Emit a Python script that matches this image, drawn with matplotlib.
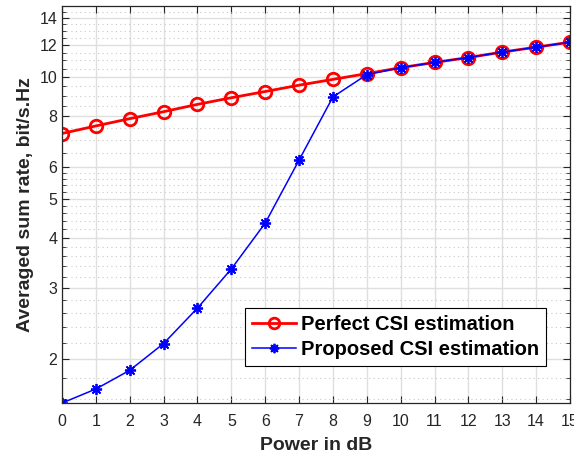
import numpy as np
import matplotlib
matplotlib.use('Agg')
import matplotlib.pyplot as plt
from matplotlib.ticker import FixedLocator, NullFormatter, NullLocator

plt.rcParams['font.family'] = ['Liberation Sans', 'DejaVu Sans']

# Data
power_db = [0, 1, 2, 3, 4, 5, 6, 7, 8, 9, 10, 11, 12, 13, 14, 15]
perfect_csi = [7.25, 7.57, 7.89, 8.21, 8.56, 8.89, 9.21, 9.55, 9.87, 10.2,
               10.55, 10.87, 11.18, 11.53, 11.86, 12.2]
proposed_csi = [1.56, 1.69, 1.88, 2.19, 2.68, 3.35, 4.35, 6.23, 8.93, 10.14,
                10.55, 10.87, 11.18, 11.53, 11.86, 12.2]

y_ticks = [2, 3, 4, 5, 6, 8, 10, 12, 14]
y_minor = [1.6, 1.8, 2.2, 2.4, 2.6, 2.8, 3.2, 3.4, 3.6, 3.8, 4.2, 4.4, 4.6, 4.8,
           5.2, 5.4, 5.6, 5.8, 6.5, 7, 7.5, 8.5, 9, 9.5, 10.5, 11, 11.5,
           12.5, 13, 13.5, 14.5]

axis_color = '#262626'

fig = plt.figure(figsize=(5.74, 4.58), dpi=100)
ax = fig.add_axes([0.108, 0.12, 0.885, 0.867])

ax.plot(power_db, perfect_csi, color='red', linewidth=2, marker='o',
        markersize=9, markerfacecolor='none', markeredgewidth=2,
        label='Perfect CSI estimation')
ax.plot(power_db, proposed_csi, color='blue', linewidth=1.1, marker=(8, 2, 0),
        markersize=8, markeredgewidth=1.3,
        label='Proposed CSI estimation')

ax.set_yscale('log')
ax.set_xlim(0, 15)
ax.set_ylim(1.56, 15)
ax.set_xticks(power_db)
ax.xaxis.set_minor_locator(NullLocator())
ax.yaxis.set_major_locator(FixedLocator(y_ticks))
ax.yaxis.set_minor_locator(FixedLocator(y_minor))
ax.set_yticklabels([str(t) for t in y_ticks])
ax.yaxis.set_minor_formatter(NullFormatter())

ax.grid(True, which='major', color='#dfdfdf', linewidth=1, linestyle='-')
ax.grid(True, which='minor', color='#c8c8c8', linewidth=0.8, linestyle=(0, (1, 3)))
ax.set_axisbelow(True)

ax.tick_params(which='both', direction='in', top=True, right=True,
               colors=axis_color, labelsize=11.5)
ax.tick_params(which='major', length=5, width=0.8)
ax.tick_params(which='minor', length=3, width=0.6)
ax.tick_params(axis='x', pad=8)
for side in ax.spines.values():
    side.set_color(axis_color)
    side.set_linewidth(0.9)

ax.set_xlabel('Power in dB', fontsize=14, fontweight='bold', color=axis_color,
              labelpad=6)
ax.set_ylabel('Averaged sum rate, bit/s.Hz', fontsize=14, fontweight='bold',
              color=axis_color)

leg = ax.legend(loc='lower right', bbox_to_anchor=(0.953, 0.093),
                prop={'weight': 'bold', 'size': 14.5},
                fancybox=False, edgecolor='black', framealpha=1,
                handlelength=2.2, borderpad=0.35, labelspacing=0.3,
                handletextpad=0.25, borderaxespad=0, markerscale=0.85)
leg.get_frame().set_linewidth(0.8)

fig.savefig('out.png', dpi=100)
